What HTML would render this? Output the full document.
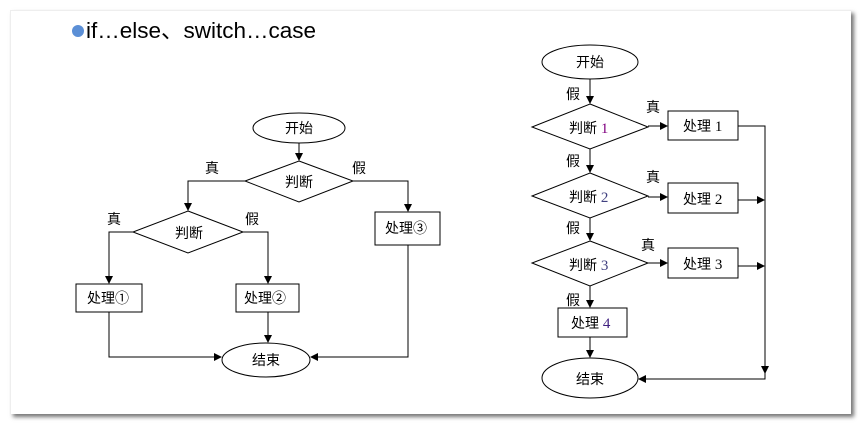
<!DOCTYPE html>
<html><head><meta charset="utf-8"><style>
html,body{margin:0;padding:0;background:#fff;}
body{width:862px;height:426px;position:relative;overflow:hidden;}
.card{position:absolute;left:10px;top:10px;width:840px;height:403px;background:#fff;box-shadow:3px 3px 4px rgba(0,0,0,0.55);border-top:1px solid #eee;border-left:1px solid #eee;}
svg{position:absolute;left:0;top:0;}
text{font-family:"Liberation Sans","Noto Sans CJK SC",sans-serif;font-size:14px;fill:#000;}
.n{font-family:"Liberation Serif",serif;font-size:15px;}
</style></head><body>
<div class="card"></div>
<svg width="862" height="426" viewBox="0 0 862 426">
<defs><marker id="a" markerWidth="8" markerHeight="8" refX="7" refY="4" orient="auto" markerUnits="userSpaceOnUse"><path d="M0,0 L8,4 L0,8 z" fill="#000"/></marker></defs>
<circle cx="78" cy="31" r="6" fill="#5b8fd6"/>
<text x="86" y="38" style="font-size:22.5px">if…else、switch…case</text>
<g stroke="#000" stroke-width="1" fill="none">
<ellipse cx="299" cy="128" rx="46" ry="15" fill="#fff"/>
<line x1="299" y1="143" x2="299" y2="160" marker-end="url(#a)"/>
<polygon points="299,161 353,181 299,202 245,181" fill="#fff"/>
<polyline points="245,181 188,181 188,210" marker-end="url(#a)"/>
<polyline points="353,181 408,181 408,211" marker-end="url(#a)"/>
<rect x="375" y="212" width="65" height="33" fill="#fff"/>
<polygon points="188,211 243,232 188,253 133,232" fill="#fff"/>
<polyline points="133,232 109,232 109,283" marker-end="url(#a)"/>
<polyline points="243,232 268,232 268,283" marker-end="url(#a)"/>
<rect x="76" y="284" width="66" height="28" fill="#fff"/>
<rect x="236" y="284" width="63" height="28" fill="#fff"/>
<ellipse cx="266" cy="360" rx="44" ry="17" fill="#fff"/>
<polyline points="109,312 109,357 221,357" marker-end="url(#a)"/>
<line x1="268" y1="312" x2="268" y2="342" marker-end="url(#a)"/>
<polyline points="408,245 408,357 311,357" marker-end="url(#a)"/>
<ellipse cx="590" cy="62" rx="48" ry="17" fill="#fff"/>
<line x1="590" y1="79" x2="590" y2="103" marker-end="url(#a)"/>
<polygon points="590,104 648,127 590,149 532,127" fill="#fff"/>
<line x1="648" y1="126" x2="667" y2="126" marker-end="url(#a)"/>
<rect x="668" y="111" width="70" height="29" fill="#fff"/>
<line x1="590" y1="149" x2="590" y2="172" marker-end="url(#a)"/>
<polygon points="590,173 648,196 590,218 532,196" fill="#fff"/>
<line x1="648" y1="197" x2="667" y2="197" marker-end="url(#a)"/>
<rect x="668" y="183" width="70" height="30" fill="#fff"/>
<line x1="590" y1="218" x2="590" y2="240" marker-end="url(#a)"/>
<polygon points="590,241 648,263 590,286 532,263" fill="#fff"/>
<line x1="648" y1="263" x2="667" y2="263" marker-end="url(#a)"/>
<rect x="668" y="248" width="70" height="30" fill="#fff"/>
<line x1="590" y1="286" x2="590" y2="307" marker-end="url(#a)"/>
<rect x="558" y="308" width="69" height="29" fill="#fff"/>
<line x1="590" y1="337" x2="590" y2="357" marker-end="url(#a)"/>
<ellipse cx="590" cy="378" rx="48" ry="20" fill="#fff"/>
<polyline points="738,126 765,126 765,373" marker-end="url(#a)"/>
<line x1="738" y1="200" x2="764" y2="200" marker-end="url(#a)"/>
<line x1="738" y1="266" x2="764" y2="266" marker-end="url(#a)"/>
<polyline points="765,373 765,379 639,379" marker-end="url(#a)"/>
</g>
<g>
<text x="285" y="133">开始</text>
<text x="285" y="187">判断</text>
<text x="205" y="173">真</text>
<text x="352" y="173">假</text>
<text x="385" y="233">处理③</text>
<text x="175" y="238">判断</text>
<text x="107" y="224">真</text>
<text x="245" y="224">假</text>
<text x="87" y="303">处理①</text>
<text x="244" y="303">处理②</text>
<text x="252" y="365">结束</text>
<text x="576" y="67">开始</text>
<text x="566" y="99">假</text>
<text x="569" y="133">判断 <tspan class="n" fill="#800080">1</tspan></text>
<text x="646" y="112">真</text>
<text x="683" y="131">处理 <tspan class="n">1</tspan></text>
<text x="566" y="166">假</text>
<text x="569" y="202">判断 <tspan class="n" fill="#404080">2</tspan></text>
<text x="646" y="182">真</text>
<text x="683" y="204">处理 <tspan class="n">2</tspan></text>
<text x="566" y="233">假</text>
<text x="569" y="270">判断 <tspan class="n" fill="#404080">3</tspan></text>
<text x="641" y="250">真</text>
<text x="683" y="269">处理 <tspan class="n">3</tspan></text>
<text x="566" y="305">假</text>
<text x="571" y="328">处理 <tspan class="n" fill="#402080">4</tspan></text>
<text x="576" y="384">结束</text>
</g>
</svg>
</body></html>
